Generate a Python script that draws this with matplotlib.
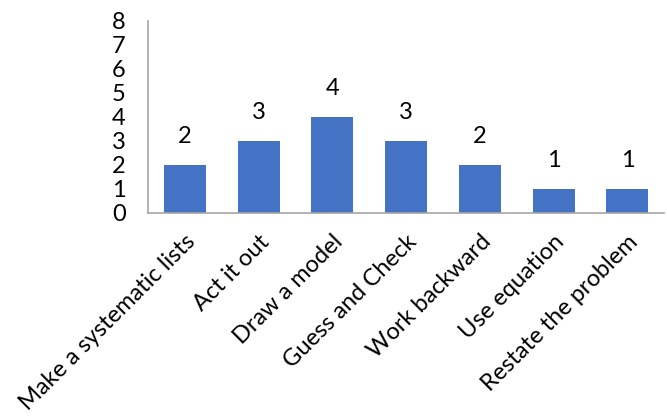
import matplotlib
matplotlib.use("Agg")
import matplotlib.pyplot as plt
import numpy as np

categories = ["Make a systematic lists", "Act it out", "Draw a model", "Guess and Check",
              "Work backward", "Use equation", "Restate the problem"]
counts = [2, 3, 4, 3, 2, 1, 1]

plt.rcParams['font.family'] = ['Lato', 'DejaVu Sans']

fig = plt.figure(figsize=(6.67, 4.16), dpi=100)
ax = fig.add_axes([0.222, 0.488, 0.774, 0.462])

x = np.arange(len(categories))
bars = ax.bar(x, counts, width=0.57, color="#4472C4")
for xi, v in zip(x, counts):
    ax.text(xi, v + 0.75, str(v), ha="center", va="bottom", fontsize=17, color="black")

ax.set_xlim(-0.5, len(categories) - 0.5)
ax.set_ylim(0, 8)
ax.set_yticks(range(0, 9))
ax.tick_params(axis="y", length=0, labelsize=17, pad=16)
ax.set_xticks(x)
ax.set_xticklabels(categories, rotation=45, ha="right", rotation_mode="anchor", fontsize=17)
ax.tick_params(axis="x", length=0, pad=13)

for s in ["top", "right"]:
    ax.spines[s].set_visible(False)
for s in ["left", "bottom"]:
    ax.spines[s].set_color("#A6A6A6")
    ax.spines[s].set_linewidth(1.2)

fig.savefig("out.png", dpi=100)
